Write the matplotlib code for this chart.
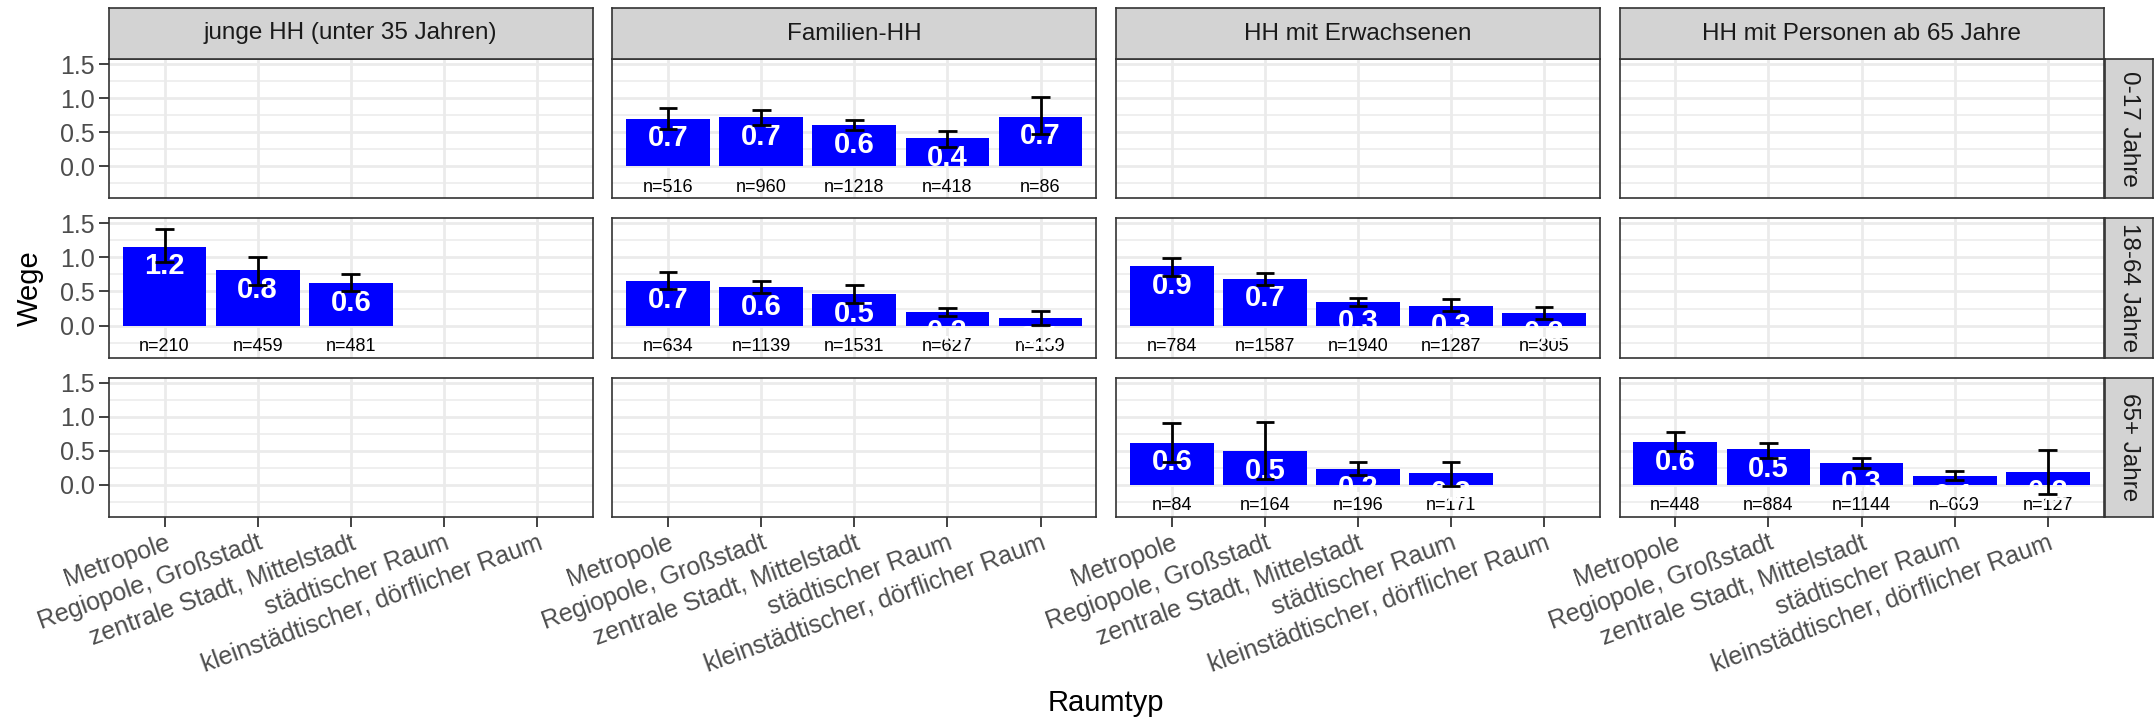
import numpy as np
import pandas as pd
import matplotlib
matplotlib.use("Agg")
import matplotlib.pyplot as plt

plt.rcParams['font.family'] = ['Liberation Sans', 'DejaVu Sans']

# facets and categories
haushalte = ["junge HH (unter 35 Jahren)", "Familien-HH", "HH mit Erwachsenen",
             "HH mit Personen ab 65 Jahre"]
altersgruppen = ["0-17 Jahre", "18-64 Jahre", "65+ Jahre"]
raumtypen = ["Metropole", "Regiopole, Großstadt", "zentrale Stadt, Mittelstadt",
             "städtischer Raum", "kleinstädtischer, dörflicher Raum"]

# long format: one entry per bar
hh = [1, 1, 1, 1, 1,
      1, 1, 1, 1, 1,
      0, 0, 0,
      2, 2, 2, 2, 2,
      2, 2, 2, 2,
      3, 3, 3, 3, 3]
alter = [0, 0, 0, 0, 0,
         1, 1, 1, 1, 1,
         1, 1, 1,
         1, 1, 1, 1, 1,
         2, 2, 2, 2,
         2, 2, 2, 2, 2]
raum = [0, 1, 2, 3, 4,
        0, 1, 2, 3, 4,
        0, 1, 2,
        0, 1, 2, 3, 4,
        0, 1, 2, 3,
        0, 1, 2, 3, 4]
wege = [0.70, 0.72, 0.60, 0.41, 0.73,
        0.66, 0.56, 0.46, 0.20, 0.11,
        1.16, 0.81, 0.62,
        0.87, 0.69, 0.34, 0.29, 0.18,
        0.62, 0.50, 0.24, 0.17,
        0.63, 0.52, 0.32, 0.13, 0.19]
ci_low = [0.55, 0.61, 0.53, 0.28, 0.47,
          0.54, 0.48, 0.33, 0.14, 0.01,
          0.93, 0.59, 0.50,
          0.73, 0.60, 0.28, 0.22, 0.09,
          0.34, 0.09, 0.14, -0.01,
          0.50, 0.40, 0.25, 0.07, -0.13]
ci_high = [0.85, 0.82, 0.68, 0.52, 1.01,
           0.78, 0.65, 0.60, 0.26, 0.21,
           1.41, 1.01, 0.75,
           0.99, 0.77, 0.40, 0.39, 0.27,
           0.91, 0.92, 0.34, 0.34,
           0.78, 0.62, 0.39, 0.20, 0.51]
n_obs = [516, 960, 1218, 418, 86,
         634, 1139, 1531, 627, 139,
         210, 459, 481,
         784, 1587, 1940, 1287, 305,
         84, 164, 196, 171,
         448, 884, 1144, 669, 127]

df = pd.DataFrame({"hh": hh, "alter": alter, "raum": raum, "wege": wege,
                   "lo": ci_low, "hi": ci_high, "n": n_obs})
df["x"] = df["raum"] + 1

W, H = 2154, 721
fig = plt.figure(figsize=(W / 100, H / 100), dpi=100)

def box(x0, y0, x1, y1):
    return [x0 / W, 1 - y1 / H, (x1 - x0) / W, (y1 - y0) / H]

left0, pw, gx = 108.7, 484.1, 19.5
top0, ph, gy = 59.0, 139.3, 20.0
strip_h = 51
strip_w = 48

grid_col = "#EBEBEB"
dark = "#333333"
txt_gray = "#4D4D4D"

for r in range(3):
    for c in range(4):
        x0 = left0 + c * (pw + gx)
        y0 = top0 + r * (ph + gy)
        ax = fig.add_axes(box(x0, y0, x0 + pw, y0 + ph))
        ax.set_xlim(0.4, 5.6)
        ax.set_ylim(-0.47, 1.574)
        ax.set_xticks(range(1, 6))
        ax.set_yticks([0, 0.5, 1.0, 1.5])
        ax.set_yticks([-0.25, 0.25, 0.75, 1.25], minor=True)
        ax.grid(True, which="major", color=grid_col, lw=2.0, zorder=0)
        ax.grid(True, which="minor", axis="y", color=grid_col, lw=1.1, zorder=0)
        ax.set_axisbelow(True)
        for s in ax.spines.values():
            s.set_color(dark)
            s.set_linewidth(1.2)
        ax.tick_params(which="minor", length=0)
        ax.tick_params(which="major", length=7, width=1.3, color=dark,
                       labelsize=18, labelcolor=txt_gray, pad=3)
        if c == 0:
            ax.set_yticklabels(["0.0", "0.5", "1.0", "1.5"])
        else:
            ax.tick_params(axis="y", length=0, labelleft=False)
        if r == 2:
            ax.set_xticklabels(raumtypen, rotation=20, ha="right", va="top",
                               rotation_mode="anchor")
        else:
            ax.tick_params(axis="x", length=0, labelbottom=False)

        d = df[(df["hh"] == c) & (df["alter"] == r)]
        ax.bar(d["x"], d["wege"], width=0.9, color="#0000FF", zorder=2)
        for _, row in d.iterrows():
            ax.text(row["x"], -0.31, "n=%d" % row["n"], ha="center", va="center",
                    fontsize=13, color="black", zorder=3)
        for _, row in d.iterrows():
            ax.text(row["x"], row["wege"] - 0.29, "%.1f" % row["wege"],
                    ha="center", va="center", fontsize=21, fontweight="bold",
                    color="white", zorder=4)
        ax.vlines(d["x"], d["lo"], d["hi"], color="black", lw=2.0, zorder=5)
        ax.hlines(d["lo"], d["x"] - 0.1, d["x"] + 0.1, color="black", lw=2.0, zorder=5)
        ax.hlines(d["hi"], d["x"] - 0.1, d["x"] + 0.1, color="black", lw=2.0, zorder=5)

        # facet strips
        if r == 0:
            sx = fig.add_axes(box(x0, y0 - strip_h, x0 + pw, y0))
            sx.set_facecolor("#D3D3D3")
            sx.set_xticks([])
            sx.set_yticks([])
            for s in sx.spines.values():
                s.set_color(dark)
                s.set_linewidth(1.2)
            sx.text(0.5, 0.5, haushalte[c], ha="center", va="center",
                    fontsize=17.5, color="#1A1A1A", transform=sx.transAxes)
        if c == 3:
            sy = fig.add_axes(box(x0 + pw + 1.5, y0, x0 + pw + 1.5 + strip_w, y0 + ph))
            sy.set_facecolor("#D3D3D3")
            sy.set_xticks([])
            sy.set_yticks([])
            for s in sy.spines.values():
                s.set_color(dark)
                s.set_linewidth(1.2)
            sy.text(0.5, 0.5, altersgruppen[r], ha="center", va="center",
                    rotation=270, fontsize=17.5, color="#1A1A1A",
                    transform=sy.transAxes)

fig.text(30 / W, 1 - 288 / H, "Wege", rotation=90, ha="center", va="center",
         fontsize=21, color="black")
fig.text(1106 / W, 1 - 703 / H, "Raumtyp", ha="center", va="center",
         fontsize=21, color="black")

fig.savefig("out.png", dpi=100, facecolor="white")
